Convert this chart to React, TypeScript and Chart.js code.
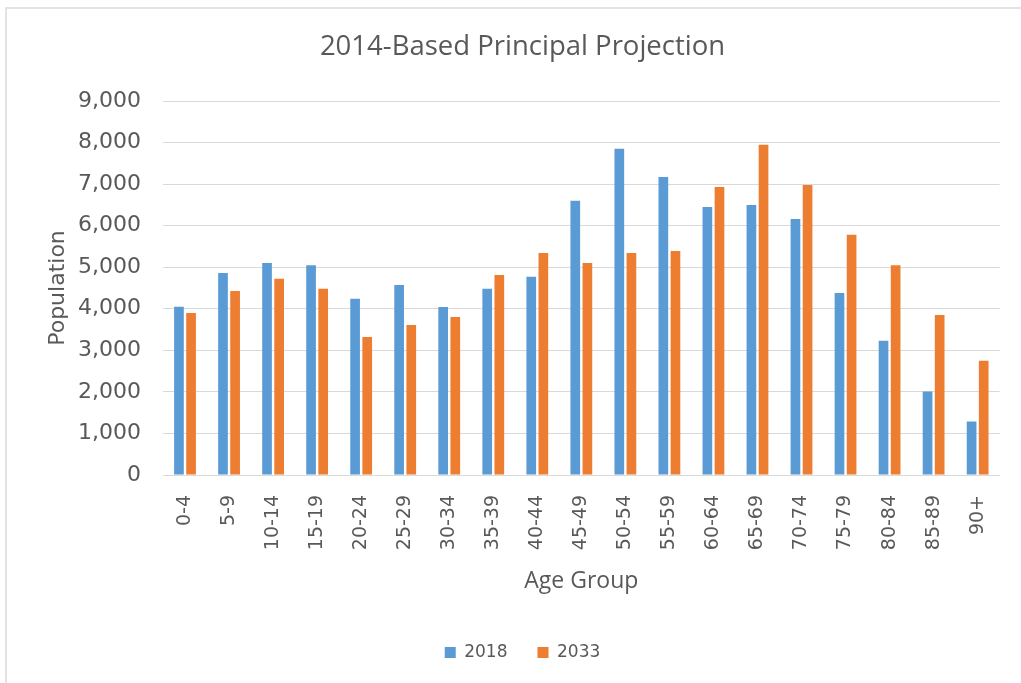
import React, { useEffect, useRef } from "react";
import { Chart, registerables } from "chart.js";

Chart.register(...registerables);

const categories = ["0-4","5-9","10-14","15-19","20-24","25-29","30-34","35-39","40-44","45-49","50-54","55-59","60-64","65-69","70-74","75-79","80-84","85-89","90+"];
const series2018 = [4050,4860,5100,5050,4240,4570,4040,4480,4770,6600,7850,7170,6450,6500,6160,4380,3230,2010,1290];
const series2033 = [3900,4430,4720,4480,3320,3610,3800,4810,5340,5100,5340,5390,6930,7950,6980,5780,5050,3850,2750];
const yTicks = [0,1000,2000,3000,4000,5000,6000,7000,8000,9000];

const TEXT = "#595959";
const SANS = "'DejaVu Sans', 'Open Sans', sans-serif";
const TITLEF = "'Open Sans', sans-serif";

export default function App() {
  const ref = useRef<HTMLCanvasElement>(null);
  useEffect(() => {
    document.body.style.margin = "0";
    document.body.style.overflow = "hidden";
    const ctx = ref.current!;
    const chart = new Chart(ctx, {
      type: "bar",
      data: {
        labels: categories,
        datasets: [
          { label: "2018", data: series2018, backgroundColor: "#5B9BD5", borderWidth: 0, barPercentage: 0.8, categoryPercentage: 0.55 },
          { label: "2033", data: series2033, backgroundColor: "#ED7D31", borderWidth: 0, barPercentage: 0.8, categoryPercentage: 0.55 },
        ],
      },
      options: {
        animation: false,
        responsive: false,
        maintainAspectRatio: false,
        layout: { padding: { left: 45, right: 21, top: 0, bottom: 12 } },
        plugins: {
          title: {
            display: true,
            text: "2014-Based Principal Projection",
            color: TEXT,
            font: { family: TITLEF, size: 27.5, weight: "normal" },
            padding: { top: 31, bottom: 37 },
          },
          legend: {
            position: "bottom",
            labels: {
              color: TEXT,
              font: { family: SANS, size: 17 },
              boxWidth: 11,
              boxHeight: 11,
              padding: 30,
            },
          },
          tooltip: { enabled: false },
        },
        scales: {
          x: {
            afterFit: (axis: any) => { axis.height = 139; },
            grid: { display: false, drawTicks: false },
            border: { display: true, color: "#d9d9d9", width: 1 },
            ticks: {
              color: TEXT,
              font: { family: SANS, size: 19 },
              maxRotation: 90,
              minRotation: 90,
              padding: 20,
              autoSkip: false,
            },
            title: {
              display: true,
              text: "Age Group",
              color: TEXT,
              font: { family: TITLEF, size: 23 },
              padding: { top: 0, bottom: 19 },
            },
          },
          y: {
            min: 0,
            max: 9000,
            afterFit: (axis: any) => { axis.width = 118; },
            afterBuildTicks: (axis: any) => {
              axis.ticks = yTicks.map((v) => ({ value: v }));
            },
            grid: { color: "#d9d9d9", drawTicks: false, lineWidth: 1 },
            border: { display: false },
            ticks: {
              color: TEXT,
              font: { family: SANS, size: 22 },
              padding: 22,
              callback: (v: any) => Number(v).toLocaleString("en-US"),
            },
            title: {
              display: true,
              text: "Population",
              color: TEXT,
              font: { family: SANS, size: 22 },
              padding: { top: 0, bottom: 0 },
            },
          },
        },
      },
    });
    return () => chart.destroy();
  }, []);
  return (
    <div style={{ position: "relative", width: 1021, height: 683, overflow: "hidden", background: "#fff" }}>
      <canvas ref={ref} width={1021} height={683} style={{ position: "absolute", left: 0, top: 0 }} />
      <div style={{ position: "absolute", left: 5, top: 7, width: 1100, height: 800, border: "2px solid #e3e3e3", pointerEvents: "none" }} />
    </div>
  );
}
